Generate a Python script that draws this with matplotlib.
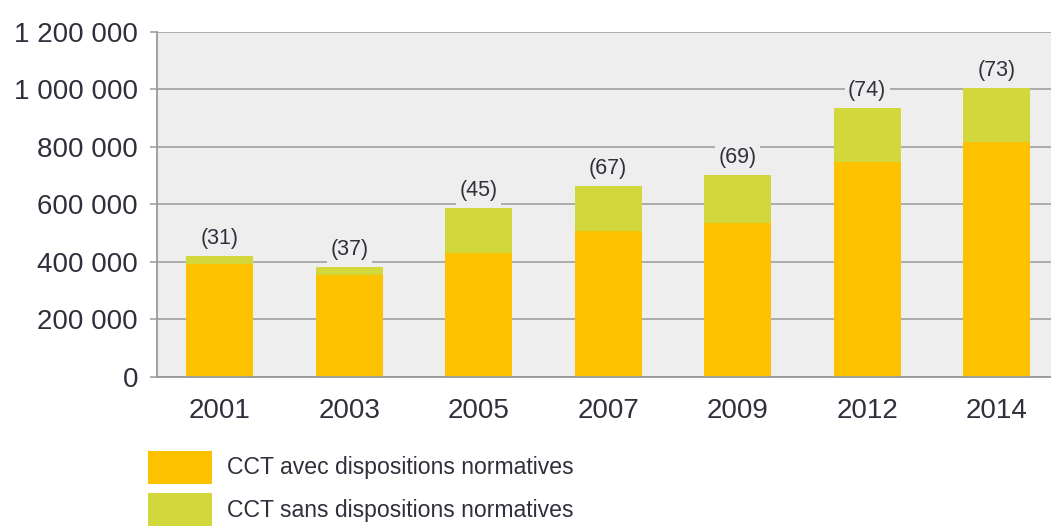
import matplotlib
matplotlib.use("Agg")
import matplotlib.pyplot as plt
from matplotlib.patches import Rectangle
from matplotlib.ticker import FuncFormatter

years = ["2001", "2003", "2005", "2007", "2009", "2012", "2014"]
avec = [391000, 353000, 429000, 508000, 536000, 748000, 817000]
sans = [30000, 28000, 157000, 155000, 166000, 186000, 186000]
counts = ["(31)", "(37)", "(45)", "(67)", "(69)", "(74)", "(73)"]
yticks = [0, 200000, 400000, 600000, 800000, 1000000, 1200000]
legend_labels = ["CCT avec dispositions normatives", "CCT sans dispositions normatives"]

ORANGE = "#FCC200"
GREEN = "#D2D83B"
BG = "#EEEEEE"
GRID = "#9A9A9A"
TXT = "#30303C"
FAM = ["Liberation Sans", "DejaVu Sans"]

W, H = 1051, 526
fig = plt.figure(figsize=(W / 100, H / 100), dpi=100)
ax = fig.add_axes([156.7 / W, 1 - 376.7 / H, 1 - 156.7 / W, (376.7 - 31.7) / H])
ax.set_facecolor(BG)

x = list(range(len(years)))
ax.bar(x, avec, width=0.52, color=ORANGE, zorder=3, linewidth=0)
ax.bar(x, sans, bottom=avec, width=0.52, color=GREEN, zorder=3, linewidth=0)

for xi, a, s, c in zip(x, avec, sans, counts):
    ax.annotate(c, (xi, a + s), xytext=(0, 12.5), textcoords="offset points",
                ha="center", va="center", fontsize=15.5, color=TXT,
                family=FAM, zorder=4,
                bbox=dict(boxstyle="square,pad=0.15", facecolor=BG, edgecolor="none"))

ax.set_xlim(-0.4865, 6.419)
ax.set_ylim(0, 1200000)
ax.set_yticks(yticks)
ax.yaxis.set_major_formatter(FuncFormatter(lambda v, p: f"{int(v):,}".replace(",", " ")))
ax.set_xticks(x)
ax.set_xticklabels(years)

ax.grid(axis="y", color=GRID, linewidth=1.1, zorder=1)
ax.set_axisbelow(True)
for side in ["top", "right"]:
    ax.spines[side].set_visible(False)
for side in ["left", "bottom"]:
    ax.spines[side].set_color(GRID)
    ax.spines[side].set_linewidth(1.3)
    ax.spines[side].set_zorder(5)

ax.tick_params(axis="y", length=4.8, width=1.1, color=GRID, pad=8.6,
               labelsize=20, labelcolor=TXT)
ax.tick_params(axis="x", length=0, pad=15, labelsize=20, labelcolor=TXT)
for lab in ax.get_yticklabels() + ax.get_xticklabels():
    lab.set_family(FAM)

# legend
leg_items = [(451, 484, ORANGE, 467.7), (492.7, 540, GREEN, 510)]
for (y0, y1, col, ty), lab in zip(leg_items, legend_labels):
    fig.patches.append(Rectangle((148 / W, 1 - y1 / H), (211.7 - 148) / W, (y1 - y0) / H,
                                 transform=fig.transFigure, facecolor=col, edgecolor="none"))
    fig.text(226.7 / W, 1 - ty / H, lab, ha="left", va="center", fontsize=16.6, color=TXT,
             family=FAM)

fig.savefig("out.png", dpi=100)
